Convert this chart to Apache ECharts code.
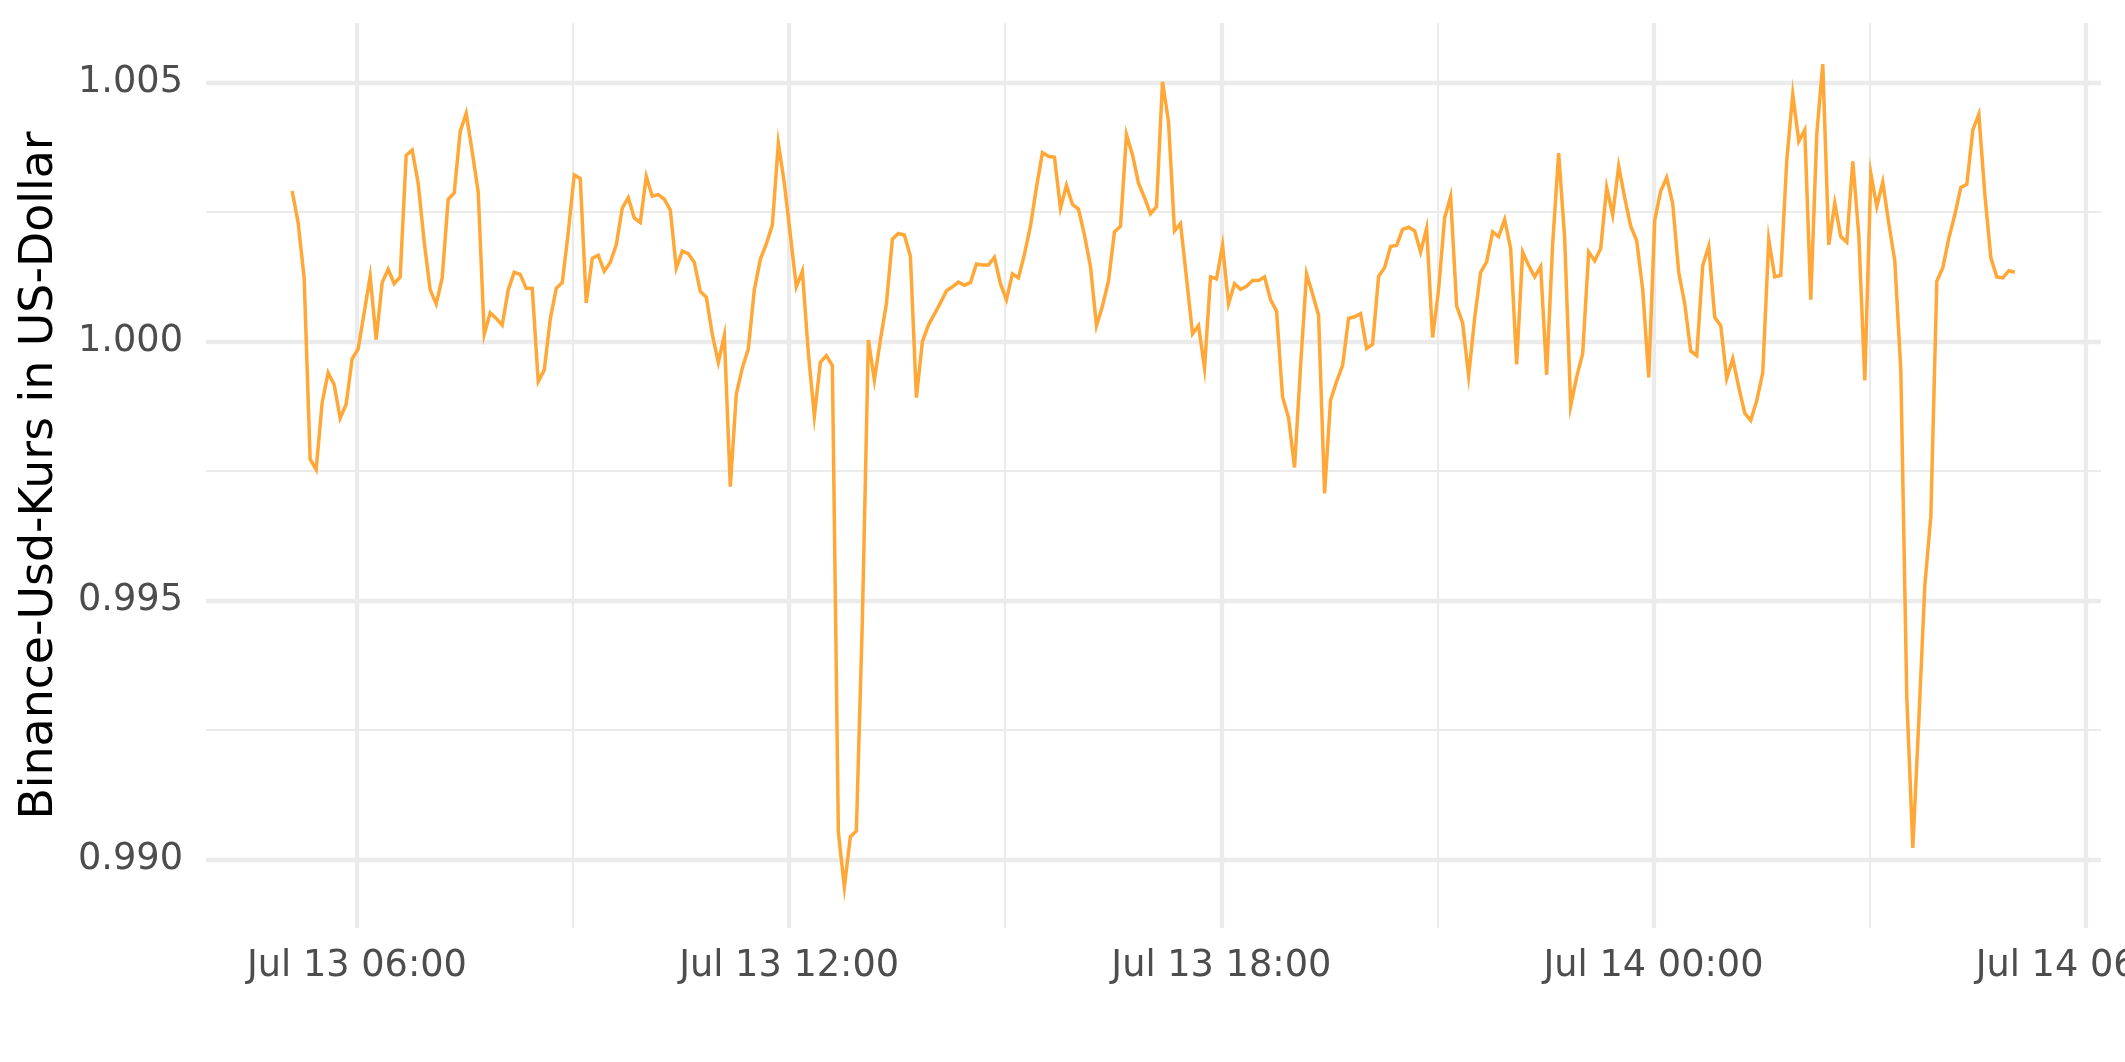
<!DOCTYPE html>
<html>
<head>
<meta charset="utf-8">
<script src="https://cdn.jsdelivr.net/npm/echarts@6/dist/echarts.min.js"></script>
<style>
html,body{margin:0;padding:0;background:#fff;}
#chart{width:2125px;height:1062px;}
</style>
</head>
<body>
<div id="chart"></div>
<script>
// ---- data (5-minute Binance USD rate, Jul 13 05:06 -> Jul 14 05:01) ----
const startTime = Date.UTC(2023, 6, 13, 5, 6);
const stepMinutes = 5;
const rates = [
1.00291,1.00230,1.00123,0.99773,0.99753,0.99882,0.99940,0.99917,0.99852,0.99879,
0.99967,0.99986,1.00056,1.00126,1.00004,1.00114,1.00140,1.00112,1.00125,1.00360,
1.00370,1.00306,1.00193,1.00100,1.00073,1.00123,1.00275,1.00287,1.00406,1.00441,
1.00367,1.00289,1.00014,1.00056,1.00045,1.00032,1.00100,1.00134,1.00130,1.00103,
1.00103,0.99923,0.99945,1.00043,1.00103,1.00114,1.00211,1.00322,1.00315,1.00075,
1.00161,1.00167,1.00136,1.00153,1.00187,1.00258,1.00278,1.00239,1.00230,1.00319,
1.00281,1.00284,1.00275,1.00254,1.00142,1.00175,1.00170,1.00153,1.00097,1.00086,
1.00014,0.99960,1.00012,0.99720,0.99899,0.99949,0.99986,1.00100,1.00159,1.00189,
1.00225,1.00383,1.00306,1.00206,1.00106,1.00136,0.99978,0.99856,0.99960,0.99973,
0.99954,0.99052,0.98947,0.99044,0.99055,0.99463,1.00003,0.99926,1.00003,1.00073,
1.00198,1.00209,1.00206,1.00165,0.99892,1.00000,1.00032,1.00053,1.00075,1.00098,
1.00106,1.00115,1.00109,1.00114,1.00150,1.00148,1.00148,1.00163,1.00112,1.00081,
1.00131,1.00123,1.00169,1.00223,1.00298,1.00365,1.00358,1.00356,1.00258,1.00302,
1.00265,1.00256,1.00206,1.00145,1.00031,1.00069,1.00117,1.00212,1.00223,1.00400,
1.00361,1.00306,1.00278,1.00247,1.00261,1.00502,1.00425,1.00214,1.00228,1.00123,
1.00015,1.00031,0.99949,1.00125,1.00121,1.00186,1.00073,1.00112,1.00101,1.00107,
1.00118,1.00118,1.00125,1.00081,1.00059,0.99893,0.99853,0.99757,0.99953,1.00131,
1.00092,1.00051,0.99707,0.99887,0.99923,0.99954,1.00045,1.00048,1.00054,0.99987,
0.99995,1.00126,1.00143,1.00184,1.00186,1.00217,1.00221,1.00214,1.00173,1.00219,
1.00008,1.00101,1.00239,1.00280,1.00069,1.00036,0.99934,1.00045,1.00134,1.00154,
1.00212,1.00203,1.00236,1.00180,0.99956,1.00173,1.00147,1.00125,1.00145,0.99936,
1.00189,1.00364,1.00200,0.99876,0.99932,0.99977,1.00173,1.00156,1.00180,1.00298,
1.00245,1.00339,1.00278,1.00223,1.00195,1.00101,0.99931,1.00234,1.00291,1.00317,
1.00267,1.00134,1.00073,0.99982,0.99973,1.00147,1.00184,1.00047,1.00031,0.99929,
0.99967,0.99912,0.99862,0.99848,0.99886,0.99940,1.00197,1.00125,1.00128,1.00350,
1.00478,1.00387,1.00409,1.00081,1.00401,1.00536,1.00187,1.00267,1.00203,1.00192,
1.00348,1.00206,0.99925,1.00325,1.00261,1.00308,1.00228,1.00156,0.99945,0.99312,
0.99022,0.99268,0.99529,0.99662,1.00117,1.00143,1.00200,1.00245,1.00298,1.00304,
1.00409,1.00439,1.00284,1.00162,1.00125,1.00123,1.00137,1.00134
];
const yTicks = [0.990, 0.995, 1.000, 1.005];
const yMinorTicks = [0.9925, 0.9975, 1.0025];
const xTicks = [Date.UTC(2023,6,13,6), Date.UTC(2023,6,13,12), Date.UTC(2023,6,13,18), Date.UTC(2023,6,14,0), Date.UTC(2023,6,14,6)];
const xMinorTicks = [Date.UTC(2023,6,13,9), Date.UTC(2023,6,13,15), Date.UTC(2023,6,13,21), Date.UTC(2023,6,14,3)];
const yTitle = 'Binance-Usd-Kurs in US-Dollar';

// ---- build ----
const times = rates.map((_, i) => startTime + i * stepMinutes * 60000);
const seriesData = rates.map((v, i) => [times[i], v]);
const tMin = times[0], tMax = times[times.length - 1];
const tPad = (tMax - tMin) * 0.05;
const vMin = Math.min(...rates), vMax = Math.max(...rates);
const vPad = (vMax - vMin) * 0.05;
const months = ['Jan','Feb','Mar','Apr','May','Jun','Jul','Aug','Sep','Oct','Nov','Dec'];
function fmtTime(ms) {
  const d = new Date(ms);
  const p = n => String(n).padStart(2, '0');
  return months[d.getUTCMonth()] + ' ' + d.getUTCDate() + ' ' + p(d.getUTCHours()) + ':' + p(d.getUTCMinutes());
}
const GRID = '#EBEBEB';
const markData = []
  .concat(yMinorTicks.map(v => ({yAxis: v, lineStyle: {color: GRID, width: 2.1, type: 'solid'}})))
  .concat(xMinorTicks.map(v => ({xAxis: v, lineStyle: {color: GRID, width: 2.1, type: 'solid'}})))
  .concat(yTicks.map(v => ({yAxis: v, lineStyle: {color: GRID, width: 4.3, type: 'solid'}})))
  .concat(xTicks.map(v => ({xAxis: v, lineStyle: {color: GRID, width: 4.3, type: 'solid'}})));

const chart = echarts.init(document.getElementById('chart'), null, {renderer: 'canvas'});
chart.setOption({
  animation: false,
  backgroundColor: '#ffffff',
  grid: {left: 206, right: 24, top: 23, bottom: 134, containLabel: false, outerBoundsMode: 'none'},
  xAxis: {
    type: 'value',
    min: tMin - tPad,
    max: tMax + tPad,
    scale: true,
    axisLine: {show: false},
    axisTick: {show: false},
    splitLine: {show: false},
    axisLabel: {
      customValues: xTicks,
      formatter: v => fmtTime(v),
      color: '#4D4D4D',
      fontFamily: 'DejaVu Sans',
      fontSize: 36.7,
      margin: 38,
      verticalAlign: 'middle',
      hideOverlap: false
    }
  },
  yAxis: {
    type: 'value',
    min: vMin - vPad,
    max: vMax + vPad,
    scale: true,
    axisLine: {show: false},
    axisTick: {show: false},
    splitLine: {show: false},
    axisLabel: {
      customValues: yTicks,
      formatter: v => v.toFixed(3),
      color: '#4D4D4D',
      fontFamily: 'DejaVu Sans',
      fontSize: 36.7,
      margin: 23
    },
    name: yTitle,
    nameLocation: 'middle',
    nameRotate: 90,
    nameGap: 166,
    nameTextStyle: {
      color: '#000000',
      fontFamily: 'DejaVu Sans',
      fontSize: 45.8,
      verticalAlign: 'middle'
    }
  },
  series: [{
    type: 'line',
    data: seriesData,
    showSymbol: false,
    symbol: 'none',
    z: 2,
    lineStyle: {color: '#FFA737', width: 3.5, join: 'miter'},
    markLine: {
      silent: true,
      z: 1,
      precision: 8,
      symbol: ['none', 'none'],
      label: {show: false},
      animation: false,
      data: markData
    }
  }]
});
</script>
</body>
</html>
